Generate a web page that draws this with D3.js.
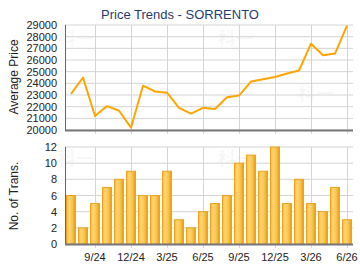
<!DOCTYPE html>
<html>
<head>
<meta charset="utf-8">
<script src="https://cdn.jsdelivr.net/npm/d3@7"></script>
<style>
  body { margin: 0; background: #fff; }
  text { font-family: "Liberation Sans", Arial, sans-serif; }
</style>
</head>
<body>
<div id="chart"></div>
<script>
// data
var months = ["7/24","8/24","9/24","10/24","11/24","12/24","1/25","2/25","3/25","4/25","5/25","6/25",
              "7/25","8/25","9/25","10/25","11/25","12/25","1/26","2/26","3/26","4/26","5/26","6/26"];
var prices = [23100, 24500, 21200, 22050, 21650, 20200, 23800, 23300, 23200, 21900, 21400, 21900,
              21800, 22800, 22950, 24150, 24350, 24550, 24850, 25100, 27400, 26400, 26550, 28950];
var trans = [6, 2, 5, 7, 8, 9, 6, 6, 9, 3, 2, 4, 5, 6, 10, 11, 9, 12, 5, 8, 5, 4, 7, 3];
var tickMonths = ["9/24","12/24","3/25","6/25","9/25","12/25","3/26","6/26"];
var priceTicks = d3.range(20000, 29001, 1000);
var transTicks = d3.range(0, 13, 2);

var W = 360, H = 270;
var left = 65, right = 353;

var svg = d3.select("#chart").append("svg")
  .attr("width", W).attr("height", H);

var defs = svg.append("defs");
var grad = defs.append("linearGradient").attr("id", "barGrad")
  .attr("x1", "0%").attr("x2", "100%").attr("y1", "0%").attr("y2", "0%");
grad.append("stop").attr("offset", "0%").attr("stop-color", "#f7b733");
grad.append("stop").attr("offset", "30%").attr("stop-color", "#ffd57a");
grad.append("stop").attr("offset", "70%").attr("stop-color", "#f9bf45");
grad.append("stop").attr("offset", "100%").attr("stop-color", "#e89a06");

var x = d3.scaleBand().domain(months).range([left, right]).padding(0);
var xc = function(m) { return x(m) + x.bandwidth() / 2; };

var yP = d3.scaleLinear().domain([20000, 29000]).range([130, 25]);
var yT = d3.scaleLinear().domain([0, 12]).range([244, 147]);

// watermarks
var marks = [[76, 45], [236, 45], [316, 100], [76, 165], [156, 222], [316, 222], [236, 165]];
svg.append("g").selectAll("text").data(marks).enter().append("text")
  .attr("x", function(d) { return d[0]; })
  .attr("y", function(d) { return d[1]; })
  .attr("text-anchor", "middle")
  .style("font-family", "'Noto Sans CJK SC', sans-serif")
  .style("font-weight", "bold")
  .style("font-size", "18px")
  .attr("fill", "#000").attr("fill-opacity", 0.045)
  .text("科一");

function grid(yScale, ticks, y0, y1) {
  var g = svg.append("g");
  g.selectAll(".h").data(ticks).enter().append("line")
    .attr("x1", left).attr("x2", right)
    .attr("y1", function(d) { return yScale(d); })
    .attr("y2", function(d) { return yScale(d); })
    .attr("stroke", "#d4d4d4").attr("stroke-width", 1);
  g.selectAll(".v").data(tickMonths).enter().append("line")
    .attr("x1", function(d) { return Math.round(xc(d)) + 0.5; })
    .attr("x2", function(d) { return Math.round(xc(d)) + 0.5; })
    .attr("y1", y0).attr("y2", y1 + 4)
    .attr("stroke", "#d4d4d4").attr("stroke-width", 1);
}

function yAxis(yScale, ticks, y0, y1, label, mid) {
  svg.append("g").selectAll("text").data(ticks).enter().append("text")
    .attr("x", 57)
    .attr("y", function(d) { return yScale(d) + 4; })
    .attr("text-anchor", "end")
    .style("font-size", "11px")
    .attr("fill", "#222")
    .text(function(d) { return d; });
  svg.append("line").attr("x1", left + 0.5).attr("x2", left + 0.5)
    .attr("y1", y0).attr("y2", y1).attr("stroke", "#666").attr("stroke-width", 1);
  svg.append("line").attr("x1", left).attr("x2", right)
    .attr("y1", y1 + 0.5).attr("y2", y1 + 0.5).attr("stroke", "#777").attr("stroke-width", 2);
  svg.append("text")
    .attr("transform", "translate(18," + mid + ") rotate(-90)")
    .attr("text-anchor", "middle")
    .style("font-size", "12px")
    .attr("fill", "#222")
    .text(label);
}

// top chart
grid(yP, priceTicks, 25, 130);
yAxis(yP, priceTicks, 25, 130, "Average Price", 77);

var line = d3.line()
  .x(function(d, i) { return xc(months[i]); })
  .y(function(d) { return yP(d); });
svg.append("path").datum(prices)
  .attr("d", line)
  .attr("fill", "none")
  .attr("stroke", "#ffa500")
  .attr("stroke-width", 2)
  .attr("stroke-linejoin", "round");

// bottom chart
grid(yT, transTicks, 147, 244);

svg.append("g").selectAll("rect").data(trans).enter().append("rect")
  .attr("x", function(d, i) { return x(months[i]) + 1.5; })
  .attr("width", x.bandwidth() - 3)
  .attr("y", function(d) { return yT(d); })
  .attr("height", function(d) { return yT(0) - yT(d); })
  .attr("fill", "url(#barGrad)")
  .attr("stroke", "#eda21c").attr("stroke-width", 1);

yAxis(yT, transTicks, 147, 244, "No. of Trans.", 196);

svg.append("g").selectAll("text").data(tickMonths).enter().append("text")
  .attr("x", function(d) { return xc(d); })
  .attr("y", 261)
  .attr("text-anchor", "middle")
  .style("font-size", "11px")
  .attr("fill", "#222")
  .text(function(d) { return d; });

// title
svg.append("text")
  .attr("x", 180).attr("y", 19)
  .attr("text-anchor", "middle")
  .style("font-size", "13px")
  .attr("fill", "#1f3d6b")
  .text("Price Trends - SORRENTO");
</script>
</body>
</html>
